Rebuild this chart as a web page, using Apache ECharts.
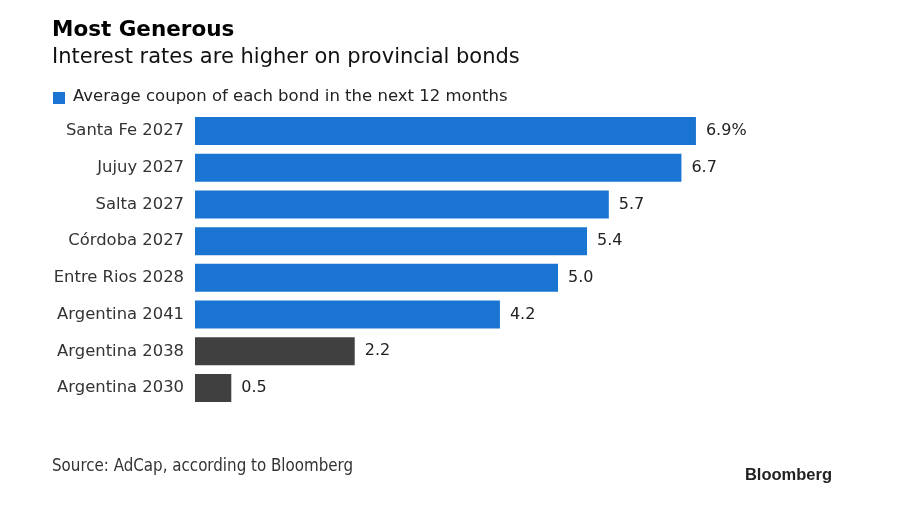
<!DOCTYPE html>
<html><head><meta charset="utf-8">
<script src="https://cdn.jsdelivr.net/npm/echarts@6/dist/echarts.min.js"></script>
<style>html,body{margin:0;padding:0;background:#fff}#c{width:900px;height:505px}</style>
</head><body><div id="c"></div>
<script>
const categories = ["Santa Fe 2027","Jujuy 2027","Salta 2027","Córdoba 2027","Entre Rios 2028","Argentina 2041","Argentina 2038","Argentina 2030"];
const values = [6.9, 6.7, 5.7, 5.4, 5.0, 4.2, 2.2, 0.5];
const groups = ["prov","prov","prov","prov","prov","prov","nat","nat"];
const colorMap = { prov: "#1a74d1", nat: "#404040" };
const legendText = "Average coupon of each bond in the next 12 months";

const chart = echarts.init(document.getElementById('c'), null, {renderer:'canvas'});
const font = '"DejaVu Sans", Verdana, sans-serif';
chart.setOption({
  animation:false,
  backgroundColor:'#fff',
  graphic:[
    {type:'text', left:52, top:19, style:{text:'Most Generous', font:'bold 21.5px '+font, fill:'#000'}},
    {type:'text', left:52, top:47, style:{text:'Interest rates are higher on provincial bonds', font:'21px '+font, fill:'#111'}},
    {type:'rect', left:53, top:92, shape:{width:12,height:12}, style:{fill:colorMap.prov}},
    {type:'text', left:73, top:88, style:{text:legendText, font:'16.5px '+font, fill:'#222'}},
    {type:'text', left:52, top:458, style:{text:'Source: AdCap, according to Bloomberg', font:'16.8px "DejaVu Sans Condensed", "DejaVu Sans", sans-serif', fill:'#333'}},
    {type:'text', right:68, top:467, style:{text:'Bloomberg', font:'bold 16.5px "Liberation Sans", Arial, sans-serif', fill:'#222'}}
  ],
  grid:{left:195, top:112.6, width:580.8, height:293.8, containLabel:false},
  xAxis:{type:'value', min:0, max:8, show:false},
  yAxis:{type:'category', data:categories, inverse:true,
    axisLine:{show:false}, axisTick:{show:false},
    axisLabel:{fontFamily:font, fontSize:16.4, color:'#333', margin:11}},
  series:[{
    type:'bar', barWidth:28,
    data: values.map((v,i)=>({value:v, itemStyle:{color:colorMap[groups[i]]}})),
    label:{show:true, position:'right', distance:10, fontFamily:font, fontSize:16, color:'#222',
      formatter:p=> p.dataIndex===0 ? p.value.toFixed(1)+'%' : p.value.toFixed(1)}
  }]
});
</script></body></html>
